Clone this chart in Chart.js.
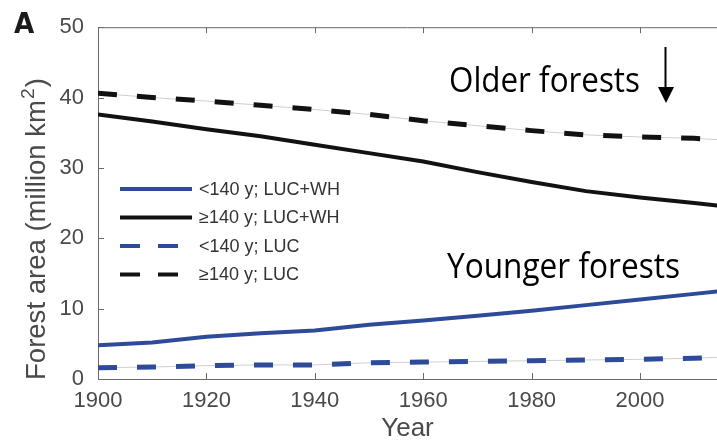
<!DOCTYPE html>
<html lang="en">
<head>
  <meta charset="UTF-8" />
  <title>Forest area by age class</title>
  <script src="https://cdn.jsdelivr.net/npm/chart.js"></script>
  <style>
    html, body {
      margin: 0;
      padding: 0;
      background: #fff;
      overflow: hidden;
    }

    #wrap {
      position: relative;
      width: 717px;
      height: 441px;
    }
  </style>
</head>
<body>

<div id="wrap">
  <canvas id="forest"></canvas>
</div>

<script>
  // Data (million km2)
  const years = [1900, 1910, 1920, 1930, 1940, 1950, 1960, 1970, 1980, 1990, 2000, 2010, 2015];
  const youngWH  = [4.8, 5.2, 6.0, 6.5, 6.9, 7.7, 8.3, 9.0, 9.7, 10.5, 11.3, 12.1, 12.5];
  const oldWH    = [37.6, 36.6, 35.5, 34.5, 33.3, 32.1, 30.9, 29.4, 28.0, 26.7, 25.8, 25.0, 24.6];
  const youngLUC = [1.6, 1.7, 1.9, 2.0, 2.0, 2.3, 2.4, 2.5, 2.6, 2.7, 2.8, 2.95, 3.1];
  const oldLUC   = [40.6, 40.0, 39.5, 38.9, 38.3, 37.6, 36.7, 36.0, 35.3, 34.7, 34.4, 34.2, 34.0];

  const seriesLabels = ['<140 y; LUC+WH', '\u2265140 y; LUC+WH', '<140 y; LUC', '\u2265140 y; LUC'];
  const xTicks = [1900, 1920, 1940, 1960, 1980, 2000];
  const yTicks = [0, 10, 20, 30, 40, 50];

  const BLUE = '#2e4b9b';
  const BLACK = '#121212';
  const AXIS = '#6a6a6a';
  const TICKTXT = '#4a4a4a';
  const SANS = '"Liberation Sans", Arial, sans-serif';
  const ANNOT = '"Open Sans", "Noto Sans", sans-serif';

  const pts = vals => vals.map((v, i) => ({ x: years[i], y: v }));

  function line(label, vals, color, dashed) {
    return {
      label: label,
      data: pts(vals),
      borderColor: color,
      borderWidth: dashed ? 5 : 4,
      borderDash: dashed ? [19, 20] : [],
      pointRadius: 0,
      tension: 0,
      order: 0
    };
  }

  // thin grey line running under the dashed series
  function guide(vals) {
    return {
      label: '',
      data: pts(vals),
      borderColor: '#cfcfcf',
      borderWidth: 1,
      pointRadius: 0,
      order: 10,
      isGuide: true
    };
  }

  // note text squeezed to a given width
  function note(ctx, text, x, y, width) {
    const w = ctx.measureText(text).width;
    ctx.save();
    ctx.translate(x, y);
    ctx.scale(width / w, 1);
    ctx.fillText(text, 0, 0);
    ctx.restore();
  }

  // vertical axis title with a raised "2"
  function yTitle(ctx, cx, cy, length) {
    const main = 'Forest area (million km';
    const bigFont = '27px ' + SANS;
    const supFont = '19px ' + SANS;
    ctx.font = bigFont;
    const w1 = ctx.measureText(main).width;
    const w3 = ctx.measureText(')').width;
    ctx.font = supFont;
    const w2 = ctx.measureText('2').width + 2;
    const total = w1 + w2 + w3;
    ctx.save();
    ctx.translate(cx, cy);
    ctx.rotate(-Math.PI / 2);
    ctx.scale(length / total, 1);
    ctx.fillStyle = TICKTXT;
    ctx.textAlign = 'left';
    ctx.textBaseline = 'alphabetic';
    let x = -total / 2;
    ctx.font = bigFont;
    ctx.fillText(main, x, 0);
    x += w1 + 1;
    ctx.font = supFont;
    ctx.fillText('2', x, -11);
    x += w2 - 1;
    ctx.font = bigFont;
    ctx.fillText(')', x, 0);
    ctx.restore();
  }

  // frame, inward ticks, panel letter, notes and legend
  const decor = {
    id: 'decor',
    afterDraw(chart) {
      const ctx = chart.ctx;
      const a = chart.chartArea;
      const xs = chart.scales.x;
      const ys = chart.scales.y;
      ctx.save();

      ctx.strokeStyle = AXIS;
      ctx.lineWidth = 1;
      ctx.beginPath();
      ctx.moveTo(a.left, a.top + 0.5);
      ctx.lineTo(a.right, a.top + 0.5);
      xTicks.forEach(v => {
        const px = Math.round(xs.getPixelForValue(v)) + 0.5;
        ctx.moveTo(px, a.bottom);
        ctx.lineTo(px, a.bottom - 6);
        ctx.moveTo(px, a.top);
        ctx.lineTo(px, a.top + 6);
      });
      yTicks.forEach(v => {
        const py = Math.round(ys.getPixelForValue(v)) + 0.5;
        ctx.moveTo(a.left, py);
        ctx.lineTo(a.left + 6, py);
      });
      ctx.stroke();

      yTitle(ctx, 45, 229, 302);

      // panel letter
      ctx.fillStyle = '#1a1a1a';
      ctx.font = 'bold 29px "Liberation Sans Narrow", "DejaVu Sans Condensed", sans-serif';
      ctx.textBaseline = 'alphabetic';
      ctx.textAlign = 'left';
      ctx.fillText('A', 14, 33);

      // notes
      ctx.fillStyle = '#000';
      ctx.textBaseline = 'middle';
      ctx.font = '35px ' + ANNOT;
      note(ctx, 'Older forests', 449, 82, 191);
      note(ctx, 'Younger forests', 447, 268, 233);

      // arrow
      ctx.strokeStyle = '#000';
      ctx.lineWidth = 2;
      ctx.beginPath();
      ctx.moveTo(665.5, 47);
      ctx.lineTo(665.5, 90);
      ctx.stroke();
      ctx.beginPath();
      ctx.moveTo(658, 87);
      ctx.lineTo(674, 87);
      ctx.lineTo(666, 103);
      ctx.closePath();
      ctx.fill();

      // legend
      ctx.font = '18px ' + SANS;
      const rows = chart.data.datasets.filter(d => !d.isGuide);
      rows.forEach((d, i) => {
        const y = 189 + i * 28.5;
        ctx.strokeStyle = d.borderColor;
        ctx.lineWidth = 4;
        ctx.setLineDash(d.borderDash.length ? [20, 18] : []);
        ctx.beginPath();
        ctx.moveTo(120, y);
        ctx.lineTo(d.borderDash.length ? 178 : 192, y);
        ctx.stroke();
        ctx.setLineDash([]);
        ctx.fillStyle = '#333';
        ctx.fillText(d.label, 199, y + 1);
      });

      ctx.restore();
    }
  };

  new Chart(document.getElementById('forest'), {
    type: 'line',
    data: {
      datasets: [
        line(seriesLabels[0], youngWH, BLUE, false),
        line(seriesLabels[1], oldWH, BLACK, false),
        line(seriesLabels[2], youngLUC, BLUE, true),
        line(seriesLabels[3], oldLUC, BLACK, true),
        guide(youngLUC),
        guide(oldLUC)
      ]
    },
    options: {
      responsive: true,
      maintainAspectRatio: false,
      animation: false,
      layout: { padding: { top: 21, right: 0, bottom: 0, left: 0 } },
      plugins: {
        legend: { display: false },
        tooltip: { enabled: false }
      },
      scales: {
        x: {
          type: 'linear',
          min: 1900,
          max: 2014.2,
          grid: { display: false, drawTicks: false },
          border: { display: true, color: AXIS, width: 1 },
          ticks: {
            color: TICKTXT,
            font: { family: SANS, size: 22 },
            padding: 9,
            maxRotation: 0,
            callback: v => String(v)
          },
          afterBuildTicks: s => { s.ticks = xTicks.map(v => ({ value: v })); },
          afterFit: s => { s.height = 62; },
          title: {
            display: true,
            text: 'Year',
            color: TICKTXT,
            font: { family: SANS, size: 26 },
            padding: { top: 0, bottom: -3 }
          }
        },
        y: {
          type: 'linear',
          min: 0,
          max: 50,
          grid: { display: false, drawTicks: false },
          border: { display: true, color: AXIS, width: 1 },
          ticks: {
            color: TICKTXT,
            font: { family: SANS, size: 22 },
            padding: 14
          },
          afterBuildTicks: s => { s.ticks = yTicks.map(v => ({ value: v })); },
          afterFit: s => { s.width = 98; },
          title: { display: false }
        }
      }
    },
    plugins: [decor]
  });
</script>

</body>
</html>
